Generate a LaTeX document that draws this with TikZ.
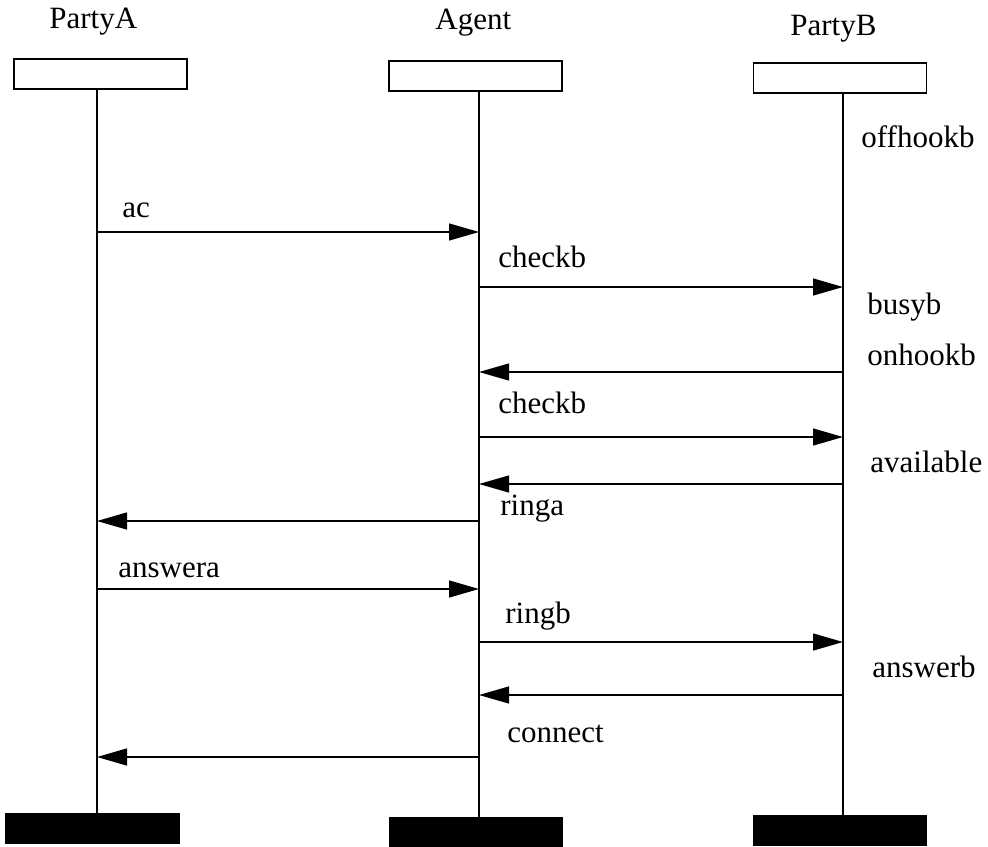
\documentclass[tikz,border=0pt]{standalone}
\usepackage{fontspec}
\setmainfont{Liberation Serif}
\usetikzlibrary{arrows.meta}

\begin{document}
\begin{tikzpicture}[x = 0.5pt, y = -0.5pt,
  font = \fontsize{15.5}{18}\selectfont,
  headbox/.style = {draw, line width = 0.6pt, minimum width = 86.5pt, minimum height = 15pt, inner sep = 0},
  footbox/.style = {draw, fill = black, line width = 0.5pt, minimum width = 86.5pt, minimum height = 14.5pt, inner sep = 0},
  lifeline/.style = {line width = 0.65pt},
  msg/.style = {line width = 0.65pt, -{Triangle[length = 15pt, width = 8.5pt]}},
  txt/.style = {inner sep = 0, anchor = base west}]
\useasboundingbox (0, 0) rectangle (988, 846);
\coordinate (lineA) at (97, 0);
\coordinate (lineAg) at (479, 0);
\coordinate (lineB) at (843, 0);
\node[txt] (nameA) at (49, 28){PartyA};
\node[txt] (nameAg) at (435, 29){Agent};
\node[txt] (nameB) at (790, 35){PartyB};
\node[headbox] (partyA) at (100.5, 74){};
\node[headbox] (agent) at (475.5, 76){};
\node[headbox] (partyB) at (840, 78){};
\node[footbox, minimum width = 87pt, minimum height = 15pt] (partyAfoot) at (92, 828){};
\node[footbox] (agentfoot) at (475.5, 831.5){};
\node[footbox, minimum height = 15pt] (partyBfoot) at (839.5, 830){};
\draw[lifeline] (partyA.south -| lineA) -- (partyAfoot.north -| lineA);
\draw[lifeline] (agent.south -| lineAg) -- (agentfoot.north -| lineAg);
\draw[lifeline] (partyB.south -| lineB) -- (partyBfoot.north -| lineB);
\coordinate (m1) at (0, 232);
\coordinate (m2) at (0, 287);
\coordinate (m3) at (0, 372);
\coordinate (m4) at (0, 437);
\coordinate (m5) at (0, 484);
\coordinate (m6) at (0, 521);
\coordinate (m7) at (0, 589);
\coordinate (m8) at (0, 642);
\coordinate (m9) at (0, 695);
\coordinate (m10) at (0, 757);
\draw[msg] (m1 -| lineA) -- (m1 -| lineAg);
\draw[msg] (m2 -| lineAg) -- (m2 -| lineB);
\draw[msg] (m3 -| lineB) -- (m3 -| lineAg);
\draw[msg] (m4 -| lineAg) -- (m4 -| lineB);
\draw[msg] (m5 -| lineB) -- (m5 -| lineAg);
\draw[msg] (m6 -| lineAg) -- (m6 -| lineA);
\draw[msg] (m7 -| lineA) -- (m7 -| lineAg);
\draw[msg] (m8 -| lineAg) -- (m8 -| lineB);
\draw[msg] (m9 -| lineB) -- (m9 -| lineAg);
\draw[msg] (m10 -| lineAg) -- (m10 -| lineA);
\node[txt] (offhookb) at (861, 147){offhookb};
\node[txt] (ac) at (122, 217){ac};
\node[txt] (checkb1) at (498, 267){checkb};
\node[txt] (busyb) at (867, 314){busyb};
\node[txt] (onhookb) at (867, 365){onhookb};
\node[txt] (checkb2) at (498, 413){checkb};
\node[txt] (available) at (870, 472){available};
\node[txt] (ringa) at (500, 515){ringa};
\node[txt] (answera) at (118, 577){answera};
\node[txt] (ringb) at (505, 623){ringb};
\node[txt] (answerb) at (872, 677){answerb};
\node[txt] (connect) at (507, 742){connect};
\end{tikzpicture}
\end{document}
